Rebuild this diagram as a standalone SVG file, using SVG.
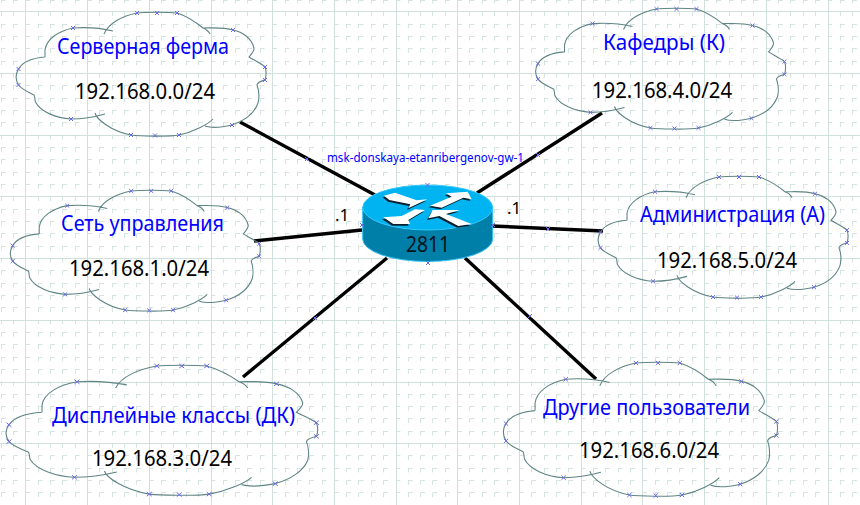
<svg xmlns="http://www.w3.org/2000/svg" width="860" height="505" viewBox="0 0 860 505">
<style>
.maj{stroke:#d0e0dd;stroke-width:1;fill:none}
.min{stroke:#d6e4e1;stroke-width:1;fill:none;stroke-dasharray:4.5 7.84}
.outline{fill:none;stroke:#5f8585;stroke-width:1.1;vector-effect:non-scaling-stroke}
.xm{fill:none;stroke:#6a6ae8;stroke-width:1;vector-effect:non-scaling-stroke}
.wire{stroke:#000;stroke-width:3.4;fill:none}
text{font-family:"Noto Sans","Liberation Sans",sans-serif}
.name{fill:#0000ff;font-size:21px}
.net{fill:#000;font-size:21px}
.small{fill:#0000ff;font-size:12px}
.lbl{fill:#000;font-size:17px}
</style>
<defs>
<g id="cloud">
<path class="outline" d="M26.5 44C14 45 4 49 0 56C-3 61-3 67 0 72C4 77 10 79 15.5 82C17 84 16 87 17 89C22 99 38 105 52.5 106C64 106 76 104 86.5 101M76.5 100C78 106 92 118 112.5 122C120 123 150 124 160.5 122C175 119 190 111 194.5 106M186.5 113C195 116 205 114 213.5 112C226 108 236 100 239.5 90C241 84 240 76 238.5 72C239 69 243 68 246.5 67C248 62 248 58 246.5 54C242 50 235 47 230.5 44C233 41 236 38 235.5 35C233 25 224 19 214.5 17C205 14 195 15 184.5 15M191.5 21C190 18 187 16 184.5 15C176 8 168 3 158.5 0C150-1 126-1 118.5 0C104 3 90 10 85.5 21M94.5 18C82 15 68 14 54.5 15C40 18 28 26 26.5 37L26.5 44"/>
<path class="xm" d="M-2 54l4 4m0-4l-4 4M-2 70l4 4m0-4l-4 4M50.5 104l4 4m0-4l-4 4M110.5 120l4 4m0-4l-4 4M134.5 120.500l4 4m0-4l-4 4M158.500 120l4 4m0-4l-4 4M211.500 110l4 4m0-4l-4 4M244.500 65l4 4m0-4l-4 4M244.500 52l4 4m0-4l-4 4M212.500 15l4 4m0-4l-4 4M156.500-2l4 4m0-4l-4 4M136.500-2l4 4m0-4l-4 4M116.500-2l4 4m0-4l-4 4M52.500 13l4 4m0-4l-4 4"/>
</g>
<g id="arrows">
<polygon points="132,167 165,158 230,181 262,178 205,205 211,193 148,180"/>
<polygon points="270,197 335,170 318,160 383,155 395,178 370,173 305,203"/>
<polygon points="130,232 185,228 225,208 255,210 205,240 210,252 160,252"/>
<polygon points="265,235 278,210 360,210 318,222 395,252 355,258 298,228"/>
</g>
</defs>
<rect width="860" height="505" fill="#fff"/>
<g id="grid">
<path class="min" d="M1.500-1V505M13.500-1V505M38.500-1V505M50.500-1V505M62.500-1V505M75.500-1V505M99.500-1V505M112.500-1V505M124.500-1V505M136.500-1V505M161.500-1V505M173.500-1V505M186.500-1V505M198.500-1V505M223.500-1V505M235.500-1V505M247.500-1V505M260.500-1V505M285.500-1V505M297.500-1V505M309.500-1V505M322.500-1V505M346.500-1V505M358.500-1V505M371.500-1V505M383.500-1V505M408.500-1V505M420.500-1V505M432.500-1V505M445.500-1V505M469.500-1V505M482.500-1V505M494.500-1V505M507.500-1V505M531.500-1V505M544.500-1V505M556.500-1V505M568.500-1V505M593.500-1V505M605.500-1V505M618.500-1V505M630.500-1V505M655.500-1V505M667.500-1V505M679.500-1V505M692.500-1V505M716.500-1V505M729.500-1V505M741.500-1V505M753.500-1V505M778.500-1V505M790.500-1V505M803.500-1V505M815.500-1V505M840.500-1V505M852.500-1V505"/>
<path class="min" d="M1 .5H860M1 24.500H860M1 36.500H860M1 48.500H860M1 61.500H860M1 85.500H860M1 98.500H860M1 110.500H860M1 122.500H860M1 147.500H860M1 159.500H860M1 172.500H860M1 184.500H860M1 209.500H860M1 221.500H860M1 233.500H860M1 246.500H860M1 270.500H860M1 283.500H860M1 295.500H860M1 307.500H860M1 332.500H860M1 344.500H860M1 357.500H860M1 369.500H860M1 394.500H860M1 406.500H860M1 418.500H860M1 431.500H860M1 455.500H860M1 468.500H860M1 480.500H860M1 492.500H860"/>
<path class="maj" d="M25.500 0V505M87.500 0V505M149.500 0V505M211.500 0V505M272.500 0V505M334.500 0V505M396.500 0V505M457.500 0V505M519.500 0V505M581.500 0V505M642.500 0V505M704.500 0V505M766.500 0V505M828.500 0V505M0 11.500H860M0 73.500H860M0 135.500H860M0 196.500H860M0 258.500H860M0 320.500H860M0 382.500H860M0 443.500H860"/>
</g>
<g id="connectors">
<path class="wire" d="M240 122L375 195"/>
<path class="wire" d="M254 241L362 230"/>
<path class="wire" d="M243 377L387 258"/>
<path class="wire" d="M602 113L477 193"/>
<path class="wire" d="M603 231L492 226"/>
<path class="wire" d="M596 379L465 258"/>
<path class="xm" d="M305 157l4 4m0-4l-4 4M313 316l4 4m0-4l-4 4M536 153l4 4m0-4l-4 4M546 227l4 4m0-4l-4 4M528 314l4 4m0-4l-4 4"/>
</g>
<g id="net0"><use href="#cloud" transform="translate(18.500 13)"/>
<text class="name" x="57" y="54" textLength="172" lengthAdjust="spacingAndGlyphs">Серверная ферма</text>
<text class="net" x="75" y="99" textLength="140" lengthAdjust="spacingAndGlyphs">192.168.0.0/24</text></g>
<g id="net1"><use href="#cloud" transform="translate(12.700 191) scale(1 .975)"/>
<text class="name" x="61" y="231" textLength="163" lengthAdjust="spacingAndGlyphs">Сеть управления</text>
<text class="net" x="69" y="276" textLength="140" lengthAdjust="spacingAndGlyphs">192.168.1.0/24</text></g>
<g id="net3"><use href="#cloud" transform="translate(9 366) scale(1.247 1.05)"/>
<text class="name" x="52" y="423" textLength="243" lengthAdjust="spacingAndGlyphs">Дисплейные классы (ДК)</text>
<text class="net" x="92" y="466" textLength="140" lengthAdjust="spacingAndGlyphs">192.168.3.0/24</text></g>
<g id="net4"><use href="#cloud" transform="translate(538 9) scale(1 .975)"/>
<text class="name" x="603" y="50" textLength="122" lengthAdjust="spacingAndGlyphs">Кафедры (К)</text>
<text class="net" x="592" y="98" textLength="140" lengthAdjust="spacingAndGlyphs">192.168.4.0/24</text></g>
<g id="net5"><use href="#cloud" transform="translate(600.500 177) scale(1 .984)"/>
<text class="name" x="640" y="222" textLength="185" lengthAdjust="spacingAndGlyphs">Администрация (А)</text>
<text class="net" x="657" y="268" textLength="140" lengthAdjust="spacingAndGlyphs">192.168.5.0/24</text></g>
<g id="net6"><use href="#cloud" transform="translate(506 363) scale(1.097 1.082)"/>
<text class="name" x="543" y="415" textLength="207" lengthAdjust="spacingAndGlyphs">Другие пользователи</text>
<text class="net" x="579" y="458" textLength="140" lengthAdjust="spacingAndGlyphs">192.168.6.0/24</text></g>
<g id="router">
<path d="M362.700 207.500V239A65 22.500 0 0 0 492.700 239V207.500Z" fill="#007fa9" stroke="#35c0f5" stroke-width="1"/>
<ellipse cx="427.700" cy="207.500" rx="65" ry="22.500" fill="#00b4f2" stroke="#35c8fa" stroke-width="1"/>
<g transform="translate(340 140) scale(.3333)">
<use href="#arrows" transform="translate(-4 5)" fill="#06202e"/>
<use href="#arrows" fill="#fff"/>
</g>
<path class="xm" d="M425.500 183l4 4m0-4l-4 4M360 223l4 4m0-4l-4 4M491 223l4 4m0-4l-4 4M426 261l4 4m0-4l-4 4"/>
<text class="net" x="406" y="252" textLength="44" lengthAdjust="spacingAndGlyphs" style="fill:#04121c">2811</text>
<text class="small" x="327" y="162" textLength="197" lengthAdjust="spacingAndGlyphs">msk-donskaya-etanribergenov-gw-1</text>
<text class="lbl" x="335" y="221">.1</text>
<text class="lbl" x="507" y="214">.1</text>
</g>
</svg>
